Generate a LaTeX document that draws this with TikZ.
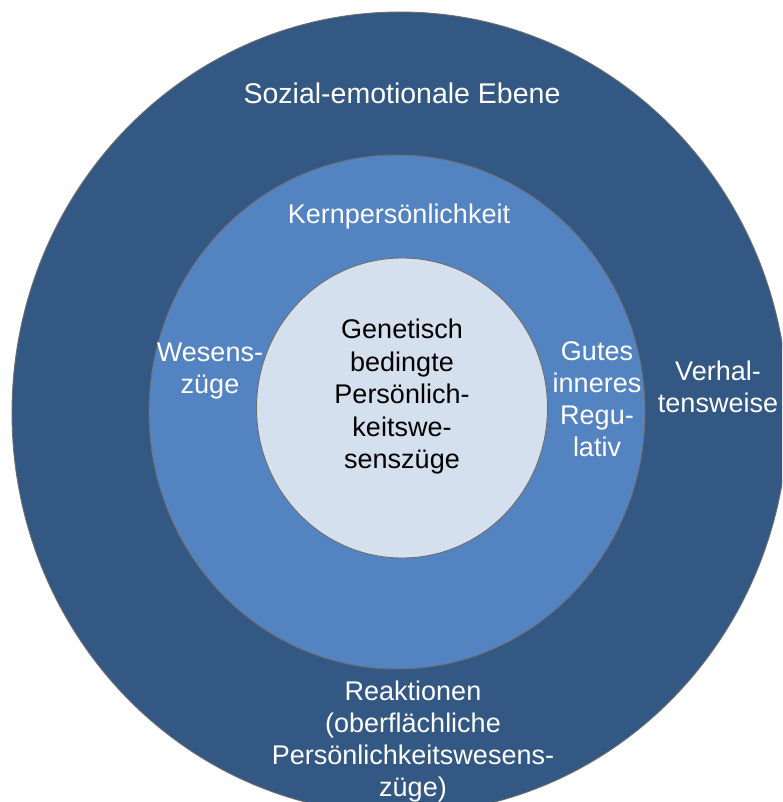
\documentclass[tikz,border=0pt]{standalone}
\usepackage{fontspec}
\setmainfont{Liberation Sans}
\definecolor{outerblue}{HTML}{335883}
\definecolor{midblue}{HTML}{5483C1}
\definecolor{innerblue}{HTML}{D5E0EE}
\definecolor{rimgray}{HTML}{6E6E6E}
\begin{document}
\begin{tikzpicture}[x=1pt,y=-1pt,
  ring/.style={draw=rimgray, line width=0.9pt},
  wlabel/.style={text=white, align=center, inner sep=0pt, font=\fontsize{27}{32}\selectfont},
  blabel/.style={text=black, align=center, inner sep=0pt, font=\fontsize{27}{32.5}\selectfont}]
\useasboundingbox (0,0) rectangle (782,802);
\clip (0,0) rectangle (782,802);
\fill[white] (0,0) rectangle (782,802);
% circles
\path[ring, fill=outerblue] (400,413) ellipse [x radius=388, y radius=401];
\path[ring, fill=midblue] (397,412) ellipse [x radius=248, y radius=257];
\path[ring, fill=innerblue] (402,408) ellipse [x radius=145.5, y radius=150];
% labels
\node[wlabel, font=\fontsize{28.5}{32}\selectfont] (soz) at (402,93) {Sozial-emotionale Ebene};
\node[wlabel] (kern) at (399,217) {Kernpersönlichkeit};
\node[wlabel] (wes) at (210,371) {Wesens-\\züge};
\node[wlabel] (gut) at (597,399) {Gutes\\inneres\\Regu-\\lativ};
\node[wlabel] (verh) at (718,387) {Verhal-\\tensweise};
\node[wlabel] (reak) at (413,742) {Reaktionen\\(oberflächliche\\Persönlichkeitswesens-\\züge)};
\node[blabel] (gen) at (402,397) {Genetisch\\bedingte\\Persönlich-\\keitswe-\\senszüge};
\end{tikzpicture}
\end{document}
